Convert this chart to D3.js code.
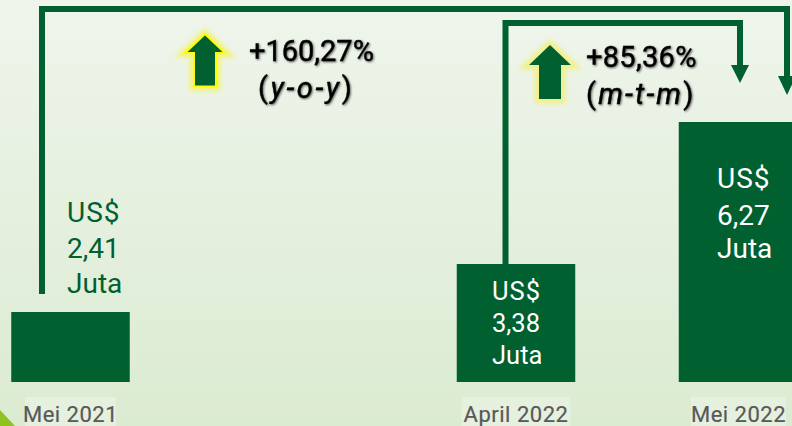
<!DOCTYPE html>
<html><head><meta charset="utf-8">
<script src="https://cdn.jsdelivr.net/npm/d3@7/dist/d3.min.js"></script>
<style>html,body{margin:0;padding:0;overflow:hidden;background:#e6f0de}svg{display:block}text{font-family:Roboto,"Noto Sans",sans-serif}</style>
</head><body><svg id="c" width="792" height="426"></svg>
<script>
const categories = ["Mei 2021", "April 2022", "Mei 2022"];
const values = [2.41, 3.38, 6.27];
const valueLabels = ["2,41", "3,38", "6,27"];
const unitTop = "US$";
const unitBottom = "Juta";
const changeLabels = ["+160,27%", "+85,36%"];
const changeBases = [["(", "y-o-y", ")"], ["(", "m-t-m", ")"]];

const W = 792, H = 426, GREEN = "#006030";
const svg = d3.select("#c");
const defs = svg.append("defs");
const g = defs.append("linearGradient").attr("id","bg").attr("x1",0).attr("y1",0).attr("x2",0).attr("y2",1);
g.append("stop").attr("offset",0).attr("stop-color","#eff5ec");
g.append("stop").attr("offset",1).attr("stop-color","#dbebd1");
const blur = defs.append("filter").attr("id","glow").attr("x","-40%").attr("y","-40%").attr("width","180%").attr("height","180%");
blur.append("feGaussianBlur").attr("stdDeviation",2.2);
const sh = defs.append("filter").attr("id","shadow").attr("x","-10%").attr("y","-20%").attr("width","120%").attr("height","150%");
sh.append("feDropShadow").attr("dx",1).attr("dy",1).attr("stdDeviation",0.8).attr("flood-color","#000").attr("flood-opacity",0.6);

svg.append("rect").attr("width",W).attr("height",H).attr("fill","url(#bg)");
svg.append("path").attr("d","M0,410L15,426L0,426Z").attr("fill","#8fc31f");

// the picture's bars are not proportional to their labels, so the scale is piecewise
const y = d3.scaleLinear().domain([0, ...values]).range([382, 312, 264, 122]);
const x = d3.scaleOrdinal().domain(categories).range([70.5, 516, 738]);
const barW = 118.5;

svg.selectAll("rect.bar").data(categories).join("rect").attr("class","bar")
  .attr("x",c=>x(c)-barW/2).attr("width",barW)
  .attr("y",(c,i)=>y(values[i])).attr("height",(c,i)=>y(0)-y(values[i]))
  .attr("fill",GREEN);

// category labels
categories.forEach((c,i)=>{
  const lw = [91,109,95][i];
  const cx = [70.5,516,738.5][i];
  svg.append("rect").attr("x",cx-lw/2).attr("y",397).attr("width",lw).attr("height",29).attr("fill","#fff").attr("opacity",.28);
  svg.append("text").attr("x",cx).attr("y",421.5).attr("text-anchor","middle")
    .attr("font-size",22).attr("letter-spacing",.5).attr("fill","#595959")
    .attr("stroke","#595959").attr("stroke-width",.2).text(c);
});

// value labels
const labelLines = i=>[unitTop, valueLabels[i], unitBottom];
const labelPos = [
  {x:67, size:28, y:[222,258,293], fill:GREEN},
  {x:492, size:25.5, y:[300,332,364], fill:"#fff"},
  {x:717, size:28, y:[188,225,258], fill:"#fff"}
];
labelPos.forEach((p,i)=>labelLines(i).forEach((t,j)=>{
  svg.append("text").attr("x",p.x).attr("y",p.y[j]).attr("font-size",p.size).attr("fill",p.fill)
    .attr("letter-spacing",t===unitTop?1:0).text(t);
}));

// connectors
const connector = (pts, head) => {
  svg.append("path").attr("d",d3.line()(pts)).attr("fill","none").attr("stroke",GREEN).attr("stroke-width",6);
  svg.append("path").attr("d",d3.line()(head)).attr("fill",GREEN);
};
connector([[42,294],[42,9],[787,9],[787,78]], [[778,76],[796,76],[787,95]]);
connector([[505.5,264],[505.5,23],[740,23],[740,66]], [[731,65],[749,65],[740,83]]);

// block arrows
const blockArrow = (cx, top, hw, sw, headY, bottom, stroke, glow) => {
  const p = [[cx,top],[cx+hw,headY],[cx+sw,headY],[cx+sw,bottom],[cx-sw,bottom],[cx-sw,headY],[cx-hw,headY]];
  const d = d3.line().curve(d3.curveLinearClosed)(p);
  svg.append("path").attr("d",d).attr("fill",glow).attr("stroke",glow).attr("stroke-width",9).attr("filter","url(#glow)");
  svg.append("path").attr("d",d).attr("fill",GREEN).attr("stroke",stroke).attr("stroke-width",stroke==="none"?0:2);
};
blockArrow(205,34,20,11,53,86.5,"#ffff00","#f3f37a");
blockArrow(550,45,21,11,65,99,"none","#f2f08c");

// change labels
const changePos = [{x:249,y:60.5,bx:258,by:98,ls:2.6,ms:0},{x:586,y:67,bx:586,by:103.5,ls:2.2,ms:.3}];
changePos.forEach((p,i)=>{
  const s = svg.append("g").attr("filter","url(#shadow)").attr("fill","#000").attr("stroke","#000").attr("stroke-width",.4).attr("font-size",29);
  s.append("text").attr("x",p.x).attr("y",p.y).attr("letter-spacing",p.ms).text(changeLabels[i]);
  const t = s.append("text").attr("x",p.bx).attr("y",p.by).attr("letter-spacing",p.ls);
  t.append("tspan").text(changeBases[i][0]);
  t.append("tspan").attr("font-style","italic").text(changeBases[i][1]);
  t.append("tspan").text(changeBases[i][2]);
});
</script></body></html>
